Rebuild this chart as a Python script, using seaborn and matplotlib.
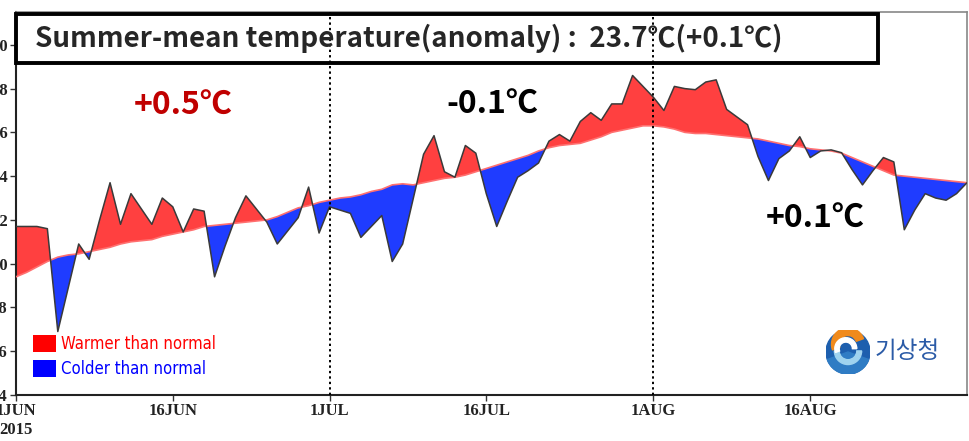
import numpy as np
import pandas as pd
import seaborn as sns
import matplotlib.pyplot as plt
from matplotlib.patches import Patch, Rectangle, Circle, Wedge

sns.set_style("white")

# --- data (daily values 1 Jun - 31 Aug 2015) ---
dates = pd.date_range("2015-06-01", "2015-08-31", freq="D")

observed = [21.7, 21.7, 21.7, 21.6, 16.9, 18.9, 20.9, 20.2, 22.0, 23.7,
            21.8, 23.2, 22.5, 21.8, 23.0, 22.6, 21.45, 22.5, 22.4, 19.4,
            20.8, 22.1, 23.1, 22.5, 21.9, 20.9, 21.5, 22.1, 23.5, 21.4,
            22.6, 22.45, 22.3, 21.2, 21.7, 22.2, 20.1, 20.9, 22.95, 25.0,
            25.85, 24.2, 23.95, 25.4, 25.05, 23.2, 21.7, 22.85, 23.95, 24.25,
            24.6, 25.6, 25.9, 25.6, 26.5, 26.9, 26.55, 27.3, 27.3, 28.6,
            28.1, 27.6, 27.0, 28.1, 28.0, 27.95, 28.3, 28.4, 27.05, 26.7,
            26.35, 24.9, 23.8, 24.8, 25.15, 25.8, 24.85, 25.15, 25.2, 25.07,
            24.3, 23.6, 24.25, 24.85, 24.65, 21.55, 22.45, 23.2, 23.0, 22.9,
            23.2, 23.7]

normal = [19.4, 19.6, 19.85, 20.1, 20.3, 20.4, 20.45, 20.55, 20.65, 20.75,
          20.9, 21.0, 21.05, 21.1, 21.25, 21.35, 21.45, 21.55, 21.7, 21.75,
          21.8, 21.85, 21.9, 21.95, 22.0, 22.15, 22.35, 22.55, 22.65, 22.8,
          22.9, 23.0, 23.05, 23.15, 23.3, 23.4, 23.6, 23.65, 23.6, 23.7,
          23.8, 23.9, 23.95, 24.05, 24.2, 24.35, 24.5, 24.65, 24.8, 24.95,
          25.15, 25.3, 25.4, 25.45, 25.5, 25.65, 25.8, 26.0, 26.1, 26.2,
          26.3, 26.3, 26.25, 26.15, 26.0, 25.95, 25.95, 25.9, 25.85, 25.8,
          25.75, 25.7, 25.6, 25.5, 25.4, 25.35, 25.25, 25.2, 25.15, 25.05,
          24.85, 24.65, 24.45, 24.25, 24.05, 24.0, 23.95, 23.9, 23.85, 23.8,
          23.75, 23.7]

tick_dates = ["2015-06-01", "2015-06-16", "2015-07-01", "2015-07-16", "2015-08-01", "2015-08-16"]
tick_labels = ["1JUN\n2015", "16JUN", "1JUL", "16JUL", "1AUG", "16AUG"]
y_ticks = [14, 16, 18, 20, 22, 24, 26, 28, 30]
month_lines = ["2015-07-01", "2015-08-01"]

title = "Summer-mean temperature(anomaly) :  23.7\u2103(+0.1\u2103)"
month_anoms = ["+0.5\u2103", "-0.1\u2103", "+0.1\u2103"]

df = pd.DataFrame({"date": dates, "observed": observed, "normal": normal})

RED_FILL = "#ff4040"
BLUE_FILL = "#1f3cff"
CJK = ["Noto Sans CJK KR", "DejaVu Sans"]

fig = plt.figure(figsize=(9.69, 4.41), dpi=100)
ax = fig.add_axes([16 / 969, 46 / 441, 951 / 969, 383 / 441])

obs = df["observed"].to_numpy()
nor = df["normal"].to_numpy()
ax.fill_between(df["date"], obs, nor, where=obs >= nor, interpolate=True,
                color=RED_FILL, linewidth=0, zorder=2)
ax.fill_between(df["date"], obs, nor, where=obs <= nor, interpolate=True,
                color=BLUE_FILL, linewidth=0, zorder=2)
sns.lineplot(data=df, x="date", y="normal", ax=ax, color="#ff7070", linewidth=1.2, zorder=3)
sns.lineplot(data=df, x="date", y="observed", ax=ax, color="#3a3a3a", linewidth=1.1, zorder=4)

for d in month_lines:
    ax.axvline(pd.Timestamp(d), color="black", linestyle=(0, (1.2, 1.6)), linewidth=1.4, zorder=5)

ax.set_xlim(dates[0], dates[-1])
ax.set_ylim(14, 31.5)
ax.set_xticks(pd.to_datetime(tick_dates))
ax.set_xticklabels(tick_labels, fontfamily="Liberation Serif", fontweight="bold",
                   fontsize=12, color="#222222", linespacing=1.25)
ax.set_yticks(y_ticks)
ax.set_yticklabels([str(v) for v in y_ticks], fontfamily="Liberation Serif",
                   fontweight="bold", fontsize=12, color="#222222")
ax.tick_params(axis="both", direction="out", length=4, width=1, color="#333333", pad=2,
               bottom=True, left=True)
ax.set_xlabel("")
ax.set_ylabel("")
for side in ["left", "bottom"]:
    ax.spines[side].set_color("#222222")
    ax.spines[side].set_linewidth(1.5)
for side in ["top", "right"]:
    ax.spines[side].set_color("#888888")
    ax.spines[side].set_linewidth(1.2)

# title box
fig.patches.append(Rectangle((16 / 969, (441 - 63) / 441), 862 / 969, 49 / 441,
                             transform=fig.transFigure, facecolor="none",
                             edgecolor="black", linewidth=2.8, zorder=10))
fig.text(35 / 969, (441 - 38) / 441, title, fontsize=20, fontweight="bold",
         family=CJK, va="center", ha="left")

# monthly anomalies
fig.text(183 / 969, (441 - 106) / 441, month_anoms[0], fontsize=23, fontweight="bold",
         color="#c00000", family=CJK, ha="center", va="center")
fig.text(492 / 969, (441 - 105) / 441, month_anoms[1], fontsize=23, fontweight="bold",
         color="black", family=CJK, ha="center", va="center")
fig.text(815 / 969, (441 - 219) / 441, month_anoms[2], fontsize=23, fontweight="bold",
         color="black", family=CJK, ha="center", va="center")

# legend
handles = [Patch(facecolor="#ff0000", edgecolor="none", label="Warmer than normal"),
           Patch(facecolor="#0000ff", edgecolor="none", label="Colder than normal")]
ax.legend(handles=handles, loc="lower left", bbox_to_anchor=(0.0, 0.0), frameon=False,
          labelcolor=["#ff0000", "#0000ff"], handlelength=1.4, handleheight=1.2,
          handletextpad=0.3, labelspacing=0.45, borderaxespad=0.6,
          prop={"family": "DejaVu Sans", "stretch": "condensed", "size": 12})

# KMA logo
lax = fig.add_axes([826 / 969, 66 / 441, 44 / 969, 46 / 441])
lax.set_xlim(-1, 1)
lax.set_ylim(-1, 1)
lax.set_aspect("equal")
lax.axis("off")
lax.add_patch(Circle((0, 0), 1, color="#1d5fae"))
lax.add_patch(Wedge((0, 0), 1, 200, 340, color="#2f7cc4"))
lax.add_patch(Wedge((0, 0.35), 0.75, 20, 200, width=0.35, color="#f08a1c"))
lax.add_patch(Wedge((0, 0.05), 0.62, 180, 360, width=0.22, color="#9fd3ef"))
lax.add_patch(Wedge((-0.1, 0.15), 0.5, 0, 200, width=0.2, color="white"))
fig.text(875 / 969, (441 - 352) / 441, "\uae30\uc0c1\uccad", fontsize=17,
         color="#2b5ba7", family=CJK, va="center", ha="left")

fig.savefig("out.png", dpi=100)
